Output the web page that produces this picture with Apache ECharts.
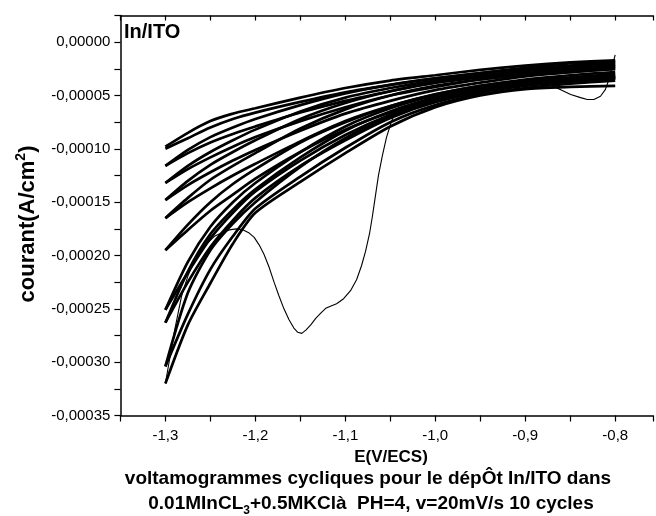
<!DOCTYPE html>
<html>
<head>
<meta charset="utf-8">
<script src="https://cdn.jsdelivr.net/npm/echarts@6/dist/echarts.min.js"></script>
<style>
  html, body { margin: 0; padding: 0; background: #fff; }
  #chart { width: 656px; height: 516px; }
</style>
</head>
<body>
<div id="chart"></div>
<script>
// Potential grid (V vs ECS) shared by the noisy scans, from -0.80 to -1.30 V
const scanPotentials = [-0.80, -0.85, -0.90, -0.95, -1.00, -1.05, -1.10, -1.15, -1.20, -1.225, -1.25, -1.275, -1.30];

// Cathodic sweeps of cycles 2..10, current in units of 1e-5 A/cm²
const cathodicScans = [
  [-3.4, -3.7, -4.0, -4.6, -5.6, -7.0, -9.0, -11.7, -15.0, -17.0, -19.5, -23.5, -30.4],
  [-3.2, -3.5, -3.8, -4.3, -5.2, -6.5, -8.3, -10.8, -13.8, -15.7, -18.0, -21.5, -26.3],
  [-3.1, -3.4, -3.7, -4.2, -5.0, -6.2, -7.9, -10.3, -13.2, -15.0, -17.3, -20.6, -25.1],
  [-3.0, -3.3, -3.6, -4.1, -4.9, -6.0, -7.5, -9.4, -11.9, -13.3, -15.0, -17.1, -19.5],
  [-2.5, -2.8, -3.1, -3.5, -4.1, -5.0, -6.3, -8.1, -10.4, -11.6, -12.9, -14.6, -16.5],
  [-2.3, -2.6, -2.9, -3.3, -3.8, -4.6, -5.7, -7.2, -9.2, -10.3, -11.5, -13.0, -14.8],
  [-2.1, -2.4, -2.7, -3.1, -3.6, -4.3, -5.2, -6.5, -8.2, -9.2, -10.3, -11.6, -13.2],
  [-1.9, -2.2, -2.5, -2.9, -3.4, -4.0, -4.8, -5.9, -7.2, -8.0, -8.9, -10.1, -11.6],
  [-1.7, -1.9, -2.2, -2.6, -3.1, -3.6, -4.3, -5.2, -6.2, -6.7, -7.4, -8.5, -9.8]
];

// Anodic (return) sweeps of cycles 1..10, same potential grid
const anodicScans = [
  [-4.1, -4.2, -4.4, -5.0, -6.1, -7.9, -10.4, -13.1, -16.0, -18.9, -22.6, -26.5, -32.0],
  [-3.6, -3.9, -4.3, -4.9, -5.9, -7.5, -9.9, -12.6, -15.6, -18.2, -21.3, -25.5, -30.4],
  [-3.4, -3.7, -4.1, -4.7, -5.6, -7.1, -9.2, -11.6, -14.6, -16.7, -19.2, -22.5, -26.3],
  [-3.3, -3.5, -3.9, -4.5, -5.4, -6.8, -8.7, -11.1, -14.0, -16.0, -18.4, -21.6, -25.1],
  [-3.3, -3.5, -3.9, -4.5, -5.4, -6.6, -8.2, -10.3, -12.8, -14.3, -15.8, -17.6, -19.5],
  [-2.8, -3.1, -3.5, -4.1, -4.9, -6.0, -7.4, -9.3, -11.4, -12.5, -13.7, -15.0, -16.5],
  [-2.5, -2.8, -3.2, -3.8, -4.5, -5.5, -6.7, -8.3, -10.1, -11.1, -12.2, -13.4, -14.8],
  [-2.3, -2.6, -3.0, -3.5, -4.2, -5.0, -6.1, -7.4, -8.9, -9.8, -10.8, -11.9, -13.2],
  [-2.1, -2.3, -2.7, -3.2, -3.8, -4.6, -5.5, -6.6, -7.9, -8.6, -9.4, -10.4, -11.6],
  [-1.8, -2.0, -2.4, -2.9, -3.4, -4.0, -4.7, -5.6, -6.6, -7.2, -8.0, -9.0, -10.0]
];

// First cathodic sweep (smooth trace with the In reduction peak)
const firstScanE = [-0.800, -0.8035, -0.807, -0.811, -0.8164, -0.8237, -0.831, -0.8385, -0.8495, -0.8606,
  -0.8717, -0.8864, -0.8938, -0.92, -0.95, -0.98, -1.00, -1.02, -1.035, -1.0433, -1.0488, -1.0543, -1.0588,
  -1.0632, -1.0665, -1.0698, -1.0731, -1.0776, -1.0820, -1.0875, -1.0942, -1.1019, -1.1097, -1.1152,
  -1.1218, -1.1273, -1.1329, -1.1384, -1.1439, -1.1484, -1.1528, -1.1572, -1.1627, -1.1682, -1.1737,
  -1.1792, -1.1847, -1.1903, -1.1958, -1.2013, -1.2068, -1.2134, -1.2212, -1.2289, -1.2377, -1.2455,
  -1.2565, -1.2676, -1.2753, -1.2820, -1.2897, -1.300];
const firstScanI = [-1.2, -2.3, -3.5, -4.45, -5.07, -5.38, -5.38, -5.2, -4.9, -4.45,
  -4.07, -3.76, -3.66, -4.1, -4.6, -5.0, -5.3, -5.65, -6.0, -6.32, -7.45, -8.95, -10.64,
  -12.51, -14.39, -16.27, -17.96, -19.64, -20.96, -22.27, -23.30, -24.05, -24.52, -24.71,
  -24.95, -25.4, -25.9, -26.5, -27.0, -27.3, -27.2, -26.8, -26.0, -25.0, -23.8,
  -22.5, -21.1, -19.9, -19.0, -18.3, -17.9, -17.6, -17.5, -17.6, -17.9, -18.2,
  -19.1, -20.4, -22.0, -23.8, -27.0, -32.0];

// Axis tick labels
const xTickLabels = ['-1,3', '-1,2', '-1,1', '-1,0', '-0,9', '-0,8'];
const yTickLabels = ['-0,00035', '-0,00030', '-0,00025', '-0,00020', '-0,00015', '-0,00010', '-0,00005', '0,00000'];

const FONT = '"Liberation Sans", Arial, sans-serif';
const chart = echarts.init(document.getElementById('chart'), null, { renderer: 'canvas' });

function pairs(xs, ys) { return xs.map((x, i) => [x, ys[i]]); }

function noisyLine(values) {
  return {
    type: 'line', data: pairs(scanPotentials, values), showSymbol: false, symbol: 'none',
    smooth: 0.25, silent: true, lineStyle: { color: '#000', width: 2.7 }
  };
}

const series = [];
cathodicScans.forEach(v => series.push(noisyLine(v)));
anodicScans.forEach(v => series.push(noisyLine(v)));
series.push({
  type: 'line', data: pairs(firstScanE, firstScanI), showSymbol: false, symbol: 'none',
  smooth: false, silent: true, lineStyle: { color: '#000', width: 1.1, join: 'round' }
});

function xLabel(v) {
  const k = Math.round(v * 10);
  if (Math.abs(v * 10 - k) > 1e-6) return '';
  const idx = k + 13; // -1.3 -> 0
  return xTickLabels[idx] !== undefined ? xTickLabels[idx] : '';
}
function yLabel(v) {
  const k = Math.round(v / 5);
  if (Math.abs(v - k * 5) > 1e-6 || v > 0.01) return '';
  const idx = k + 7; // -35 -> 0
  return yTickLabels[idx] !== undefined ? yTickLabels[idx] : '';
}

const axisLineStyle = { color: '#000', width: 1.5 };
// the plot frame runs on past the right edge of the page
const X_MIN = -1.35, X_MAX = -0.758;

chart.setOption({
  animation: false,
  backgroundColor: '#fff',
  grid: { left: 120.4, top: 15.5, right: 0, height: 400, containLabel: false },
  xAxis: [{
    type: 'value', min: X_MIN, max: X_MAX, interval: 0.05, position: 'bottom',
    axisLine: { onZero: false, lineStyle: axisLineStyle },
    axisTick: { length: 6, lineStyle: { color: '#000', width: 1.2 } },
    axisLabel: { formatter: xLabel, fontSize: 15, color: '#000', margin: 13, fontFamily: FONT },
    splitLine: { show: false }
  }, {
    type: 'value', min: X_MIN, max: X_MAX, interval: 0.05, position: 'top',
    axisLine: { onZero: false, lineStyle: axisLineStyle },
    axisTick: { inside: true, length: 5, lineStyle: { color: '#000', width: 1.2 } },
    axisLabel: { show: false },
    splitLine: { show: false }
  }],
  yAxis: {
    type: 'value', min: -35, max: 2.5, interval: 2.5,
    axisLine: { onZero: false, lineStyle: axisLineStyle },
    axisTick: { length: 6, lineStyle: { color: '#000', width: 1.2 } },
    axisLabel: { formatter: yLabel, fontSize: 15, color: '#000', margin: 10, fontFamily: FONT },
    splitLine: { show: false }
  },
  series: series,
  graphic: [
    {
      type: 'text', x: 124, y: 32,
      style: { text: 'In/ITO', fill: '#000', font: 'bold 20px ' + FONT, align: 'left', verticalAlign: 'middle', textAlign: 'left', textVerticalAlign: 'middle' }
    },
    {
      type: 'text', x: 28, y: 224, rotation: Math.PI / 2,
      style: {
        text: '{m|courant(A/cm}{s|2}{m|)}', fill: '#000', align: 'center', verticalAlign: 'middle',
        textAlign: 'center', textVerticalAlign: 'middle',
        rich: {
          m: { fontSize: 22, fontWeight: 'bold', fontFamily: FONT, lineHeight: 28, fill: '#000' },
          s: { fontSize: 14, fontWeight: 'bold', fontFamily: FONT, lineHeight: 12, verticalAlign: 'top', fill: '#000' }
        }
      }
    },
    {
      type: 'text', x: 391, y: 457,
      style: { text: 'E(V/ECS)', fill: '#000', font: 'bold 17px ' + FONT, align: 'center', verticalAlign: 'middle', textAlign: 'center', textVerticalAlign: 'middle' }
    },
    {
      type: 'text', x: 368, y: 479,
      style: { text: 'voltamogrammes cycliques pour le dépÔt In/ITO dans', fill: '#000', font: 'bold 19px ' + FONT, align: 'center', verticalAlign: 'middle', textAlign: 'center', textVerticalAlign: 'middle' }
    },
    {
      type: 'text', x: 371, y: 504,
      style: {
        text: '{m|0.01MInCL}{s|3}{m|+0.5MKClà  PH=4, v=20mV/s 10 cycles}', fill: '#000',
        align: 'center', verticalAlign: 'middle', textAlign: 'center', textVerticalAlign: 'middle',
        rich: {
          m: { fontSize: 19, fontWeight: 'bold', fontFamily: FONT, lineHeight: 26, fill: '#000' },
          s: { fontSize: 12, fontWeight: 'bold', fontFamily: FONT, lineHeight: 10, verticalAlign: 'bottom', fill: '#000' }
        }
      }
    }
  ]
});
</script>
</body>
</html>
